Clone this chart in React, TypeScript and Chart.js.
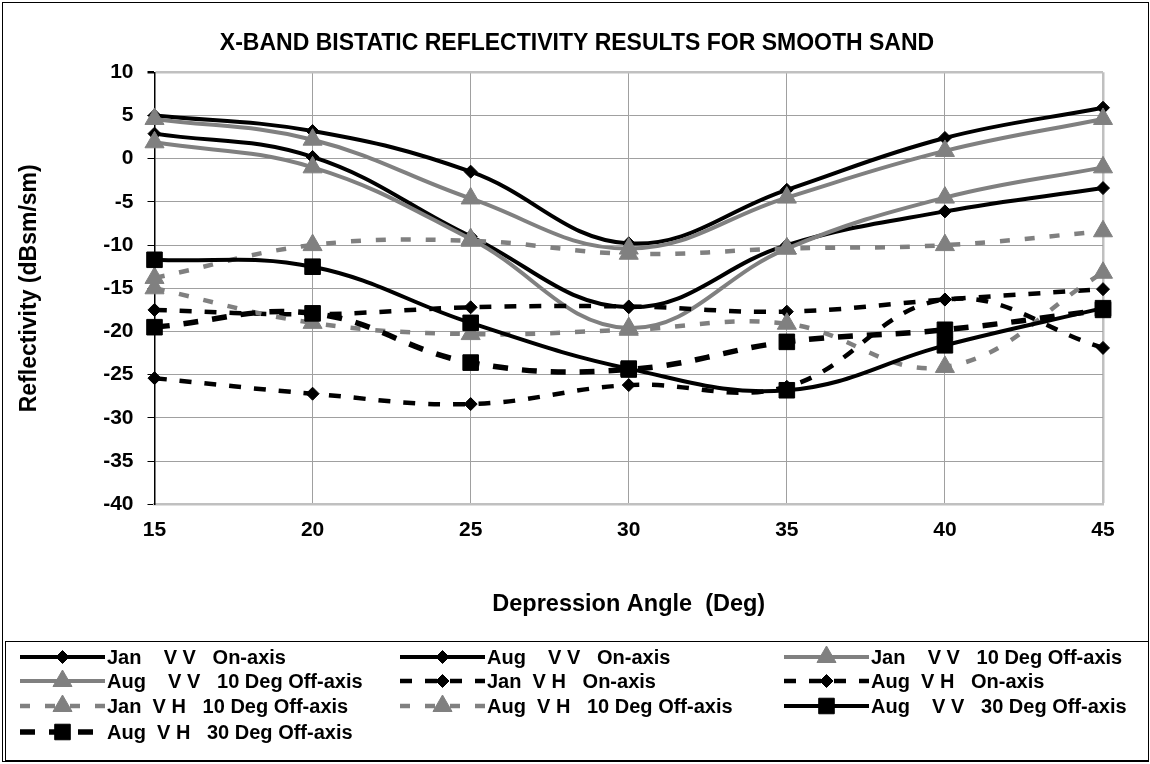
import React, { useEffect, useRef } from 'react';
import { Chart, registerables } from 'chart.js';

Chart.register(...registerables);

const FONT = '"Liberation Sans", Arial, Helvetica, sans-serif';

const angles = ['15', '20', '25', '30', '35', '40', '45'];

const janVVOn = [5.0, 3.2, -1.5, -9.8, -3.6, 2.4, 5.9];
const augVVOn = [2.9, 0.2, -9.0, -17.2, -10.0, -6.1, -3.4];
const janVV10 = [4.6, 2.2, -4.6, -10.4, -4.5, 0.9, 4.6];
const augVV10 = [1.9, -1.0, -9.3, -19.6, -10.4, -4.5, -1.0];
const janVHOn = [-17.5, -18.0, -17.2, -17.1, -17.7, -16.3, -15.1];
const augVHOn = [-25.4, -27.2, -28.4, -26.2, -26.4, -16.3, -21.9];
const janVH10 = [-13.8, -10.0, -9.5, -11.0, -10.4, -10.0, -8.4];
const augVH10 = [-15.0, -19.0, -20.3, -19.8, -19.1, -24.1, -13.2];
const augVV30 = [-11.7, -12.5, -19.0, -24.3, -26.8, -21.6, -17.3];
const augVH30 = [-19.5, -17.9, -23.6, -24.4, -21.2, -19.8, -17.5];

const seriesLabels = [
  'Jan    V V   On-axis',
  'Aug    V V   On-axis',
  'Jan    V V   10 Deg Off-axis',
  'Aug    V V   10 Deg Off-axis',
  'Jan  V H   On-axis',
  'Aug  V H   On-axis',
  'Jan  V H   10 Deg Off-axis',
  'Aug  V H   10 Deg Off-axis',
  'Aug    V V   30 Deg Off-axis',
  'Aug  V H   30 Deg Off-axis',
];

const chartTitle = 'X-BAND BISTATIC REFLECTIVITY RESULTS FOR SMOOTH SAND';
const xTitle = 'Depression Angle  (Deg)';
const yTitle = 'Reflectivity (dBsm/sm)';

const BLACK = '#000000';
const GRAY = '#808080';

function mk(i: number, data: number[], color: string, dash: number[], marker: string, radius: number, width: number) {
  return {
    label: seriesLabels[i],
    data,
    borderColor: color,
    backgroundColor: color,
    borderWidth: width,
    borderDash: dash,
    pointStyle: marker,
    pointRadius: radius,
    pointBorderWidth: 1,
    pointBackgroundColor: color,
    pointBorderColor: color,
    tension: 0.4,
    fill: false,
    order: 20 - i,
  };
}

function drawMarker(ctx: CanvasRenderingContext2D, style: string, x: number, y: number, r: number, color: string) {
  ctx.save();
  ctx.setLineDash([]);
  ctx.fillStyle = color;
  ctx.strokeStyle = color;
  ctx.lineWidth = 1;
  ctx.beginPath();
  if (style === 'rectRot') {
    ctx.moveTo(x - r, y);
    ctx.lineTo(x, y - r);
    ctx.lineTo(x + r, y);
    ctx.lineTo(x, y + r);
  } else if (style === 'triangle') {
    ctx.moveTo(x, y - r);
    ctx.lineTo(x + r * 0.866, y + r / 2);
    ctx.lineTo(x - r * 0.866, y + r / 2);
  } else {
    const s = r * Math.SQRT1_2;
    ctx.rect(x - s, y - s, 2 * s, 2 * s);
  }
  ctx.closePath();
  ctx.fill();
  ctx.stroke();
  ctx.restore();
}

const frameAndLegend = {
  id: 'frameAndLegend',
  beforeDraw(chart: any) {
    const ctx = chart.ctx as CanvasRenderingContext2D;
    ctx.save();
    ctx.fillStyle = '#ffffff';
    ctx.fillRect(0, 0, chart.width, chart.height);
    ctx.restore();
  },
  afterDraw(chart: any) {
    const ctx = chart.ctx as CanvasRenderingContext2D;
    ctx.save();
    ctx.strokeStyle = '#000';
    ctx.lineWidth = 1;
    ctx.strokeRect(2.5, 2.5, 1146, 759);
    ctx.strokeRect(5.5, 641.5, 1143, 119);
    const colX = [20, 400, 784];
    const rowY = [657, 681, 706, 732];
    const lineLen = 85;
    chart.data.datasets.forEach((ds: any, i: number) => {
      const x = colX[i % 3];
      const y = rowY[Math.floor(i / 3)];
      ctx.save();
      ctx.strokeStyle = ds.borderColor;
      ctx.lineWidth = ds.borderWidth;
      ctx.setLineDash(ds.borderDash || []);
      ctx.beginPath();
      ctx.moveTo(x, y);
      ctx.lineTo(x + lineLen, y);
      ctx.stroke();
      ctx.restore();
      drawMarker(ctx, ds.pointStyle, x + lineLen / 2, y, ds.pointRadius, ds.pointBackgroundColor);
      ctx.fillStyle = '#000';
      ctx.font = 'bold 20px ' + FONT;
      ctx.textBaseline = 'middle';
      ctx.textAlign = 'left';
      ctx.fillText(ds.label, x + lineLen + 2, y + 1);
    });
    ctx.restore();
  },
};

export default function App() {
  const ref = useRef<HTMLCanvasElement>(null);
  useEffect(() => {
    if (!ref.current) return;
    const datasets = [
      mk(0, janVVOn, BLACK, [], 'rectRot', 6.5, 4),
      mk(1, augVVOn, BLACK, [], 'rectRot', 6.5, 4),
      mk(2, janVV10, GRAY, [], 'triangle', 11, 4),
      mk(3, augVV10, GRAY, [], 'triangle', 11, 4),
      mk(4, janVHOn, BLACK, [12, 13], 'rectRot', 6.5, 4.5),
      mk(5, augVHOn, BLACK, [12, 13], 'rectRot', 6.5, 4.5),
      mk(6, janVH10, GRAY, [10, 15], 'triangle', 11, 4.5),
      mk(7, augVH10, GRAY, [10, 15], 'triangle', 11, 4.5),
      mk(8, augVV30, BLACK, [], 'rect', 11, 4),
      mk(9, augVH30, BLACK, [15, 14], 'rect', 11, 5.5),
    ];
    const chart = new Chart(ref.current, {
      type: 'line',
      data: { labels: angles, datasets: datasets as any },
      plugins: [frameAndLegend],
      options: {
        responsive: false,
        animation: false,
        devicePixelRatio: 1,
        layout: { padding: { left: 4, right: 0, top: 0, bottom: 144.2 } },
        plugins: {
          legend: { display: false },
          tooltip: { enabled: false },
          title: {
            display: true,
            text: chartTitle,
            color: '#000',
            font: { family: FONT, size: 23, weight: 'bold' },
            padding: { top: 29.5, bottom: 15.2 },
          },
        },
        scales: {
          x: {
            type: 'category',
            offset: false,
            afterFit: (s: any) => { s.height = 115.5; s.paddingRight = 47; },
            grid: {
              offset: false,
              drawTicks: false,
              color: (c: any) => (c.index === angles.length - 1 ? '#c0c0c0' : '#a0a0a0'),
              lineWidth: (c: any) => (c.index === angles.length - 1 ? 2.5 : 1),
            },
            border: { display: true, color: '#c0c0c0', width: 2.5 },
            ticks: { color: '#000', font: { family: FONT, size: 21, weight: 'bold' }, padding: 13, maxRotation: 0 },
            title: {
              display: true,
              text: xTitle,
              color: '#000',
              font: { family: FONT, size: 23.5, weight: 'bold' },
              padding: { top: 0, bottom: 1.5 },
            },
          },
          y: {
            min: -40,
            max: 10,
            afterFit: (s: any) => { s.width = 150.5; },
            grid: {
              color: (c: any) => (c.tick && (c.tick.value === 10) ? '#c0c0c0' : '#a0a0a0'),
              lineWidth: (c: any) => (c.tick && (c.tick.value === 10) ? 2.5 : 1),
              tickColor: '#000',
              tickLength: 7,
              drawTicks: true,
            },
            border: { display: true, color: '#000', width: 1.5 },
            ticks: { stepSize: 5, color: '#000', font: { family: FONT, size: 21, weight: 'bold' }, padding: 14 },
            title: {
              display: true,
              text: yTitle,
              color: '#000',
              font: { family: FONT, size: 23, weight: 'bold' },
              padding: { top: 12, bottom: 0 },
            },
          },
        },
      } as any,
    });
    return () => chart.destroy();
  }, []);
  return (
    <div style={{ position: 'absolute', left: 0, top: 0, width: 1150, height: 764, background: '#fff' }}>
      <canvas ref={ref} width={1150} height={764} style={{ display: 'block' }} />
    </div>
  );
}
